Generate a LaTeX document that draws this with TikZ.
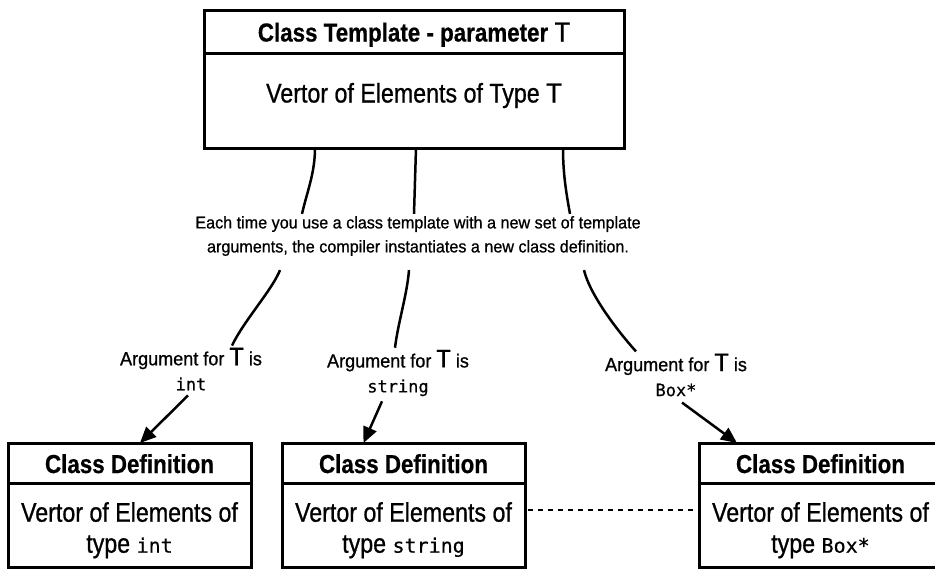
\documentclass[tikz,border=0pt]{standalone}
\usepackage{fontspec}
\setmainfont{Liberation Sans}[FakeStretch=0.86,UprightFeatures={FakeBold=0.8},BoldFeatures={FakeBold=0.6}]
\setmonofont{DejaVu Sans Mono}[FakeBold=0.5]
\newfontfamily\notefont{Liberation Sans}[FakeStretch=0.95,FakeBold=0.8]
\usetikzlibrary{arrows.meta,positioning,calc}

\newcommand{\cty}[2][20]{{\ttfamily\mdseries\fontsize{#1}{31}\selectfont #2}}

\tikzset{
  box/.style={draw,line width=3pt,inner sep=0pt,outer sep=0pt},
  headbox/.style={box,font=\bfseries\fontsize{26}{30}\selectfont,text height=22pt,text depth=2pt},
  bodybox/.style={box,font=\fontsize{27}{31}\selectfont,align=center},
  link/.style={line width=2.5pt},
  arglabel/.style={font=\notefont\fontsize{19}{25}\selectfont,align=center,inner sep=0pt}
}

\begin{document}
\begin{tikzpicture}[x=1pt,y=-1pt,>={Triangle[length=16pt,width=14pt]}]
  \clip (0,0) rectangle (935,568);
  % class template
  \node[headbox,minimum width=420pt,minimum height=43pt,anchor=north west] (tpl-head) at (204,10)
    {Class Template - parameter \cty[26]{T}};
  \node[bodybox,minimum width=420pt,minimum height=95pt,text height=20pt,text depth=16pt,below=0pt of tpl-head] (tpl-body)
    {Vertor of Elements of Type \cty[26]{T}};
  \node[font=\notefont\fontsize{17}{24}\selectfont,align=center,inner sep=2pt] (note) at (418,236)
    {Each time you use a class template with a new set of template\\
     arguments, the compiler instantiates a new class definition.};

  % arguments
  \node[arglabel] (lab-int) at (191,369) {Argument for \cty[24]{T} is\\\cty[17]{int}};
  \node[arglabel] (lab-str) at (398,373) {Argument for \cty[24]{T} is\\\cty[17]{string}};
  \node[arglabel] (lab-box) at (676,375) {Argument for \cty[24]{T} is\\\cty[17]{Box*}};

  % class definitions
  \node[headbox,minimum width=243pt,minimum height=40pt,anchor=north west] (def-int-head) at (8,443) {Class Definition};
  \node[bodybox,minimum width=243pt,minimum height=84pt,below=0pt of def-int-head] (def-int-body)
    {\rule{0pt}{30pt}Vertor of Elements of\\type \cty{int}};
  \node[headbox,minimum width=243pt,minimum height=40pt,right=31pt of def-int-head] (def-str-head) {Class Definition};
  \node[bodybox,minimum width=243pt,minimum height=84pt,below=0pt of def-str-head] (def-str-body)
    {\rule{0pt}{30pt}Vertor of Elements of\\type \cty{string}};
  \node[headbox,minimum width=243pt,minimum height=40pt,right=174pt of def-str-head] (def-box-head) {Class Definition};
  \node[bodybox,minimum width=243pt,minimum height=84pt,below=0pt of def-box-head] (def-box-body)
    {\rule{0pt}{30pt}Vertor of Elements of\\type \cty{Box*}};

  % template -> note
  \draw[link] ([xshift=-99pt]tpl-body.south) .. controls +(0,25) and +(5,-22) .. ([xshift=-116pt]note.north);
  \draw[link] ([xshift=2pt]tpl-body.south) -- ([xshift=-4pt]note.north);
  \draw[link] ([xshift=149pt]tpl-body.south) .. controls +(0,25) and +(-4,-22) .. ([xshift=152pt]note.north);

  % note -> labels
  \draw[link] ([xshift=-138pt,yshift=-12pt]note.south) .. controls +(-8,20) and +(12,-25) .. ([xshift=41pt,yshift=2pt]lab-int.north);
  \draw[link] ([xshift=-9pt,yshift=-12pt]note.south) .. controls +(-2,25) and +(3,-25) .. ([xshift=-3pt,yshift=2pt]lab-str.north);
  \draw[link] ([xshift=166pt,yshift=-12pt]note.south) .. controls +(6,25) and +(-18,-20) .. ([xshift=-40pt,yshift=2pt]lab-box.north);

  % labels -> definitions
  \draw[link,->] ([xshift=-3pt,yshift=-5pt]lab-int.south) -- ([xshift=10.5pt]def-int-head.north);
  \draw[link,->] ([xshift=-16pt,yshift=-5pt]lab-str.south) -- ([xshift=-40pt]def-str-head.north);
  \draw[link,->] ([xshift=6pt,yshift=-6pt]lab-box.south) -- ([xshift=-83.5pt]def-box-head.north);

  \draw[line width=2pt,dash pattern=on 5pt off 5pt,shorten <=3pt,shorten >=6pt]
    ([yshift=15pt]def-str-body.east) -- ([yshift=15pt]def-box-body.west);
\end{tikzpicture}
\end{document}
